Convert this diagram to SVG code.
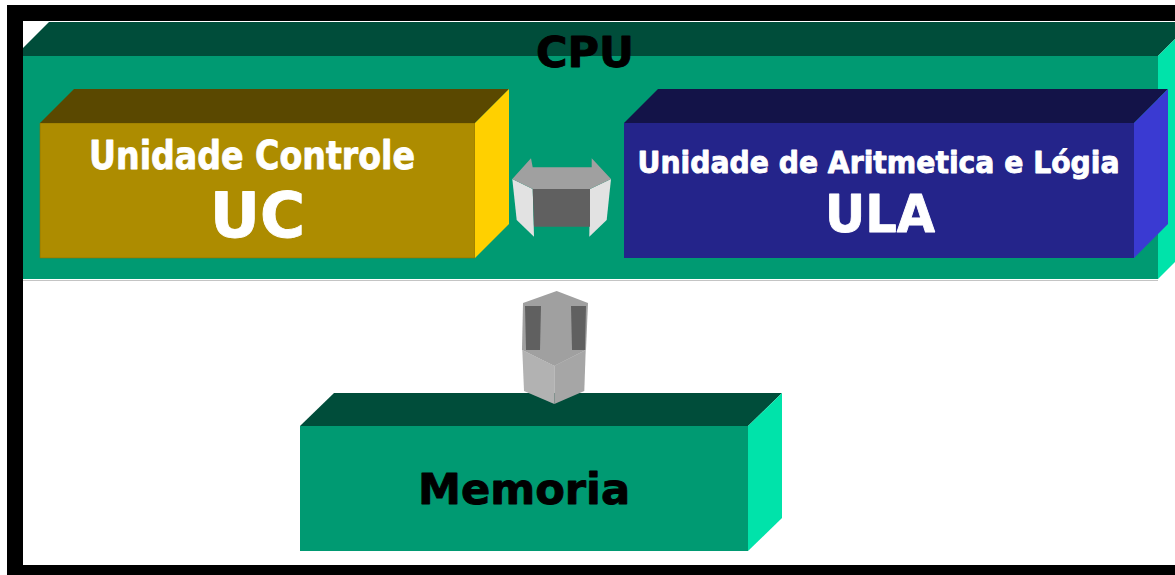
<svg xmlns="http://www.w3.org/2000/svg" width="1175" height="575" viewBox="0 0 1175 575">
  <style>
    .lbl { font-family: "DejaVu Sans", Verdana, sans-serif; font-weight: bold; stroke-width: 0.9; stroke-linejoin: round; }
    .white { fill: #FFFFFF; stroke: #FFFFFF; }
    .black { fill: #000000; stroke: #000000; }
    .ghTop { fill: #A0A0A0; }
    .ghDark { fill: #606060; }
    .ghLight { fill: #E2E2E2; }
  </style>
  <rect x="0" y="0" width="1175" height="575" fill="#FFFFFF"/>

  <g id="cpu">
    <polygon points="15,56 1158,56 1158,279 15,279" fill="#009A72"/>
    <polygon points="15,56 49,22 1192,22 1158,56" fill="#004D3A"/>
    <polygon points="1158,56 1192,22 1192,245 1158,279" fill="#00E3AA"/>
    <line x1="23" y1="280.5" x2="1158" y2="280.5" stroke="#C4C4C4" stroke-width="1"/>
    <text class="lbl black" x="536" y="67" font-size="42" textLength="98" lengthAdjust="spacingAndGlyphs">CPU</text>
  </g>

  <g id="uc">
    <polygon points="40,123 475,123 475,258 40,258" fill="#AD8C00" stroke="#8A7000" stroke-width="0.6"/>
    <polygon points="40,123 74,89 509,89 475,123" fill="#5A4800"/>
    <polygon points="475,123 509,89 509,224 475,258" fill="#FFD000"/>
    <text class="lbl white" x="89" y="169" font-size="39" textLength="326" lengthAdjust="spacingAndGlyphs">Unidade Controle</text>
    <text class="lbl white" x="210" y="237" font-size="62" textLength="95" lengthAdjust="spacingAndGlyphs">UC</text>
  </g>

  <g id="ula">
    <polygon points="624,123 1134,123 1134,258 624,258" fill="#24248A"/>
    <polygon points="624,123 658,89 1168,89 1134,123" fill="#131348"/>
    <polygon points="1134,123 1168,89 1168,224 1134,258" fill="#3A3AD2"/>
    <text class="lbl white" x="637.5" y="173" font-size="30" textLength="482" lengthAdjust="spacingAndGlyphs">Unidade de Aritmetica e Lógia</text>
    <text class="lbl white" x="825" y="232" font-size="52" textLength="110" lengthAdjust="spacingAndGlyphs">ULA</text>
  </g>

  <g id="memoria">
    <polygon points="300,426 748,426 748,551 300,551" fill="#009A72"/>
    <polygon points="300,426 334,393 782,393 748,426" fill="#004D3A"/>
    <polygon points="748,426 782,393 782,518 748,551" fill="#00E3AA"/>
    <text class="lbl black" x="418" y="503.5" font-size="42.5" textLength="212" lengthAdjust="spacingAndGlyphs">Memoria</text>
  </g>

  <g id="connectors">
    <g id="arrow-uc-ula">
      <polygon class="ghLight" points="512.3,179 532.7,189 534,236.7 516.7,220"/>
      <polygon class="ghLight" points="611,179 590,189 589.3,236.7 606.7,220"/>
      <polygon class="ghDark" points="532.7,189 590,189 590,226.7 534,226.7"/>
      <polygon class="ghTop" points="512.3,179 531,158.3 532.7,167.3 591.7,167.3 591.7,158.3 611,179 590,189 532.7,189"/>
    </g>
    <g id="arrow-cpu-memoria">
      <polygon class="ghTop" points="523,303 556.7,291 588,303 586,350 554.3,366 522,350"/>
      <polygon class="ghDark" points="525,306 541,306 540,350 526,350"/>
      <polygon class="ghDark" points="571,306 586,306 585,350 572,350"/>
      <polygon points="522.3,350 554.3,365.7 554.3,404 524,391" fill="#B2B2B2"/>
      <polygon points="585.7,350 554.3,365.7 554.3,404 584.3,391" fill="#A6A6A6"/>
    </g>
  </g>

  <g id="frame">
    <rect x="7" y="5" width="1168" height="16" fill="#000000"/>
    <rect x="7" y="5" width="16" height="570" fill="#000000"/>
    <rect x="7" y="565" width="1168" height="10" fill="#000000"/>
  </g>
</svg>
